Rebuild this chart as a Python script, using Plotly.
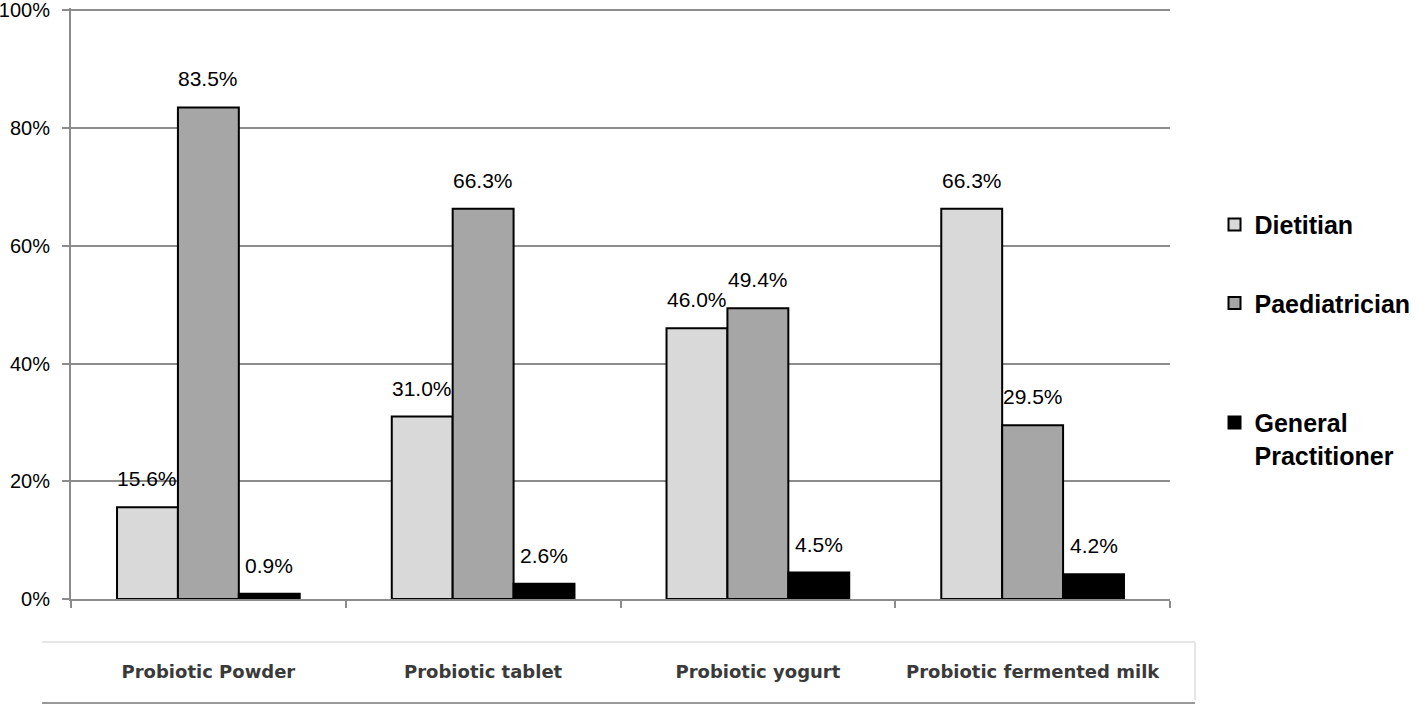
"""
Grouped bar chart: recommended source of probiotic products by professional group.
"""

import plotly.graph_objects as go

categories = ["Probiotic Powder", "Probiotic tablet", "Probiotic yogurt", "Probiotic fermented milk"]
dietitian = [15.6, 31.0, 46.0, 66.3]
paediatrician = [83.5, 66.3, 49.4, 29.5]
general_practitioner = [0.9, 2.6, 4.5, 4.2]
y_ticks = [0, 20, 40, 60, 80, 100]

series = [
    ("Dietitian", dietitian, "#d9d9d9", "legend"),
    ("Paediatrician", paediatrician, "#a6a6a6", "legend"),
    ("General<br>Practitioner", general_practitioner, "#000000", "legend2"),
]

W, H = 1418, 705
margin = dict(l=71, r=248, t=8, b=106)
bargap = 0.335
grid = "#8c8c8c"
legend_font = dict(family="Liberation Sans, Arial", size=25, color="black", weight="bold")

fig = go.Figure()
for i, (name, vals, col, leg) in enumerate(series):
    fig.add_trace(go.Bar(x=categories, y=vals, name=name, legendgroup=str(i), legend=leg,
                         marker=dict(color=col, line=dict(color="black", width=2))))

# value labels above each bar
cat_px = (W - margin["l"] - margin["r"]) / len(categories)
bar_px = cat_px * (1 - bargap) / len(series)
for i, (name, vals, col, leg) in enumerate(series):
    for c, v in zip(categories, vals):
        fig.add_annotation(x=c, y=v, text=f"{v:.1f}%", showarrow=False,
                           xshift=(i - 1) * bar_px, yshift=15, yanchor="bottom",
                           font=dict(family="Liberation Sans, Arial", size=21, color="black"))

# box around category labels
fig.add_shape(type="line", xref="paper", yref="paper", x0=-0.0264, x1=1.0228, y0=-0.0728, y1=-0.0728,
              line=dict(color="#e6e6e6", width=2))
fig.add_shape(type="line", xref="paper", yref="paper", x0=1.0228, x1=1.0228, y0=-0.0728, y1=-0.171,
              line=dict(color="#e6e6e6", width=2))
fig.add_shape(type="line", xref="paper", yref="paper", x0=-0.0264, x1=1.0228, y0=-0.176, y1=-0.176,
              line=dict(color="#9a9a9a", width=2))

fig.update_layout(
    width=W, height=H, margin=dict(margin, autoexpand=False),
    plot_bgcolor="white", paper_bgcolor="white",
    barmode="group", bargap=bargap, bargroupgap=0,
    showlegend=True,
    legend=dict(x=1.0405, y=0.672, xanchor="left", yanchor="top", valign="top",
                tracegroupgap=43, traceorder="grouped", font=legend_font),
    legend2=dict(x=1.0405, y=0.337, xanchor="left", yanchor="top", valign="top",
                 font=legend_font),
    xaxis=dict(showline=True, linecolor=grid, linewidth=2, ticks="outside", tickson="boundaries",
               ticklen=7, tickcolor=grid, tickwidth=2, ticklabelstandoff=55, automargin=False,
               tickfont=dict(family="DejaVu Sans", size=18, color="#3a3a3a", weight="bold")),
    yaxis=dict(range=[0, 100.4], tickmode="array", tickvals=y_ticks,
               ticktext=[f"{t}%" for t in y_ticks], showline=True, linecolor=grid,
               linewidth=2, showgrid=True, gridcolor=grid, gridwidth=2, zeroline=False,
               ticks="outside", ticklen=7, tickcolor=grid, tickwidth=2, automargin=False,
               ticklabelstandoff=8, ticklabeloverflow="allow",
               tickfont=dict(family="Liberation Sans, Arial", size=20, color="black")),
)

# drop the default body margin so the figure fills the window
fig.write_html("out.html", config={"displayModeBar": False},
               post_script="document.body.style.margin = '0';")
